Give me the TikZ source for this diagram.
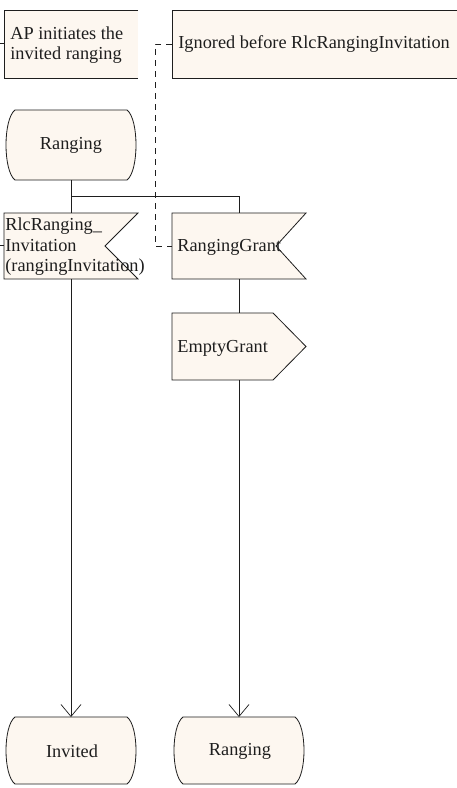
\documentclass[tikz,border=0pt]{standalone}
\usepackage{fontspec}
\setmainfont{Liberation Serif}
\usetikzlibrary{arrows.meta,calc}
\definecolor{symfill}{HTML}{FDF7F0}
\definecolor{ink}{HTML}{1E1E1E}

% SDL state symbol: straight top and bottom, bulging left and right sides
\newcommand\drawstate[1]{%
  \path[sym] ($(#1.north west)+(11,0)$) -- ($(#1.north east)+(-11,0)$)
    .. controls ($(#1.north east)+(1,9)$) and ($(#1.south east)+(1,-9)$) .. ($(#1.south east)+(-11,0)$)
    -- ($(#1.south west)+(11,0)$)
    .. controls ($(#1.south west)+(-1,-9)$) and ($(#1.north west)+(-1,9)$) .. cycle;}
% SDL input symbol: rectangle with a notch cut into its right side
\newcommand\drawinput[2]{%
  \path[sym] (#1.north west) -- (#1.north east) -- ($(#1.east)+(-#2,0)$)
    -- (#1.south east) -- (#1.south west) -- cycle;}
% SDL output symbol: rectangle with a point on its right side
\newcommand\drawoutput[2]{%
  \path[sym] (#1.north west) -- ($(#1.north east)+(-#2,0)$) -- (#1.east)
    -- ($(#1.south east)+(-#2,0)$) -- (#1.south west) -- cycle;}
% SDL comment symbol: filled area with an open bracket on its left
\newcommand\drawcomment[1]{%
  \fill[symfill] (#1.north west) rectangle (#1.south east);
  \draw[draw=ink] (#1.north east) -- (#1.north west) -- (#1.south west) -- (#1.south east);}

\begin{document}
\begin{tikzpicture}[x=1bp,y=-1bp,line width=0.8bp,
  sym/.style={fill=symfill,draw=ink},
  shapebox/.style={inner sep=0pt,outer sep=0pt,draw=none},
  lbl/.style={font=\fontsize{18.3bp}{20.5bp}\selectfont,inner sep=0pt,align=left,text=ink},
  flow/.style={draw=ink},
  arr/.style={flow,-{Straight Barb[length=12bp,width=20bp,line width=0.7bp]}},
  cmtline/.style={draw=ink,dash pattern=on 6bp off 5bp}]
\useasboundingbox[fill=white] (0,0) rectangle (457,788);

% comments
\node[shapebox,minimum width=134bp,minimum height=68bp] (c1) at (71,44) {};
\drawcomment{c1}
\node[lbl,anchor=west] (c1t) at (10,45) {AP initiates the\\invited ranging};
\coordinate (c1s) at (0,43);
\draw[flow] (c1s) -- (c1.west |- c1s);

\node[shapebox,minimum width=285bp,minimum height=68bp] (c2) at (314.5,44) {};
\drawcomment{c2}
\node[lbl,anchor=west] (c2t) at (178,44) {Ignored before RlcRangingInvitation};

% start state
\node[shapebox,minimum width=134bp,minimum height=70bp] (s0) at (71,145) {};
\drawstate{s0}
\node[lbl] (s0t) at (71,145) {Ranging};

% inputs
\node[shapebox,minimum width=134bp,minimum height=66bp] (in1) at (71,246) {};
\drawinput{in1}{33}
\node[lbl,anchor=west] (in1t) at (5,247) {RlcRanging\_\\Invitation\\(rangingInvitation)};
\coordinate (in1s) at (0,245);
\draw[flow] (in1s) -- (in1.west |- in1s);

\node[shapebox,minimum width=134bp,minimum height=66bp] (in2) at (239,246) {};
\drawinput{in2}{30}
\node[lbl,anchor=west] (in2t) at (177,247) {RangingGrant};

% output
\node[shapebox,minimum width=134bp,minimum height=67bp] (out1) at (239,346.5) {};
\drawoutput{out1}{33}
\node[lbl,anchor=west] (out1t) at (177,348) {EmptyGrant};

% next states
\node[shapebox,minimum width=134bp,minimum height=67bp] (s1) at (71,750.5) {};
\drawstate{s1}
\node[lbl] (s1t) at (72,751) {Invited};

\node[shapebox,minimum width=134bp,minimum height=67bp] (s2) at (239,750.5) {};
\drawstate{s2}
\node[lbl] (s2t) at (240,751) {Ranging};

% comment connector
\draw[cmtline] (c2.west) -- ++(-17,0) |- (in2.west);

% flow lines
\coordinate (fork) at ($(s0.south)+(0,16)$);
\draw[flow] (s0.south) -- (in1.north);
\draw[flow] (fork) -| (in2.north);
\draw[flow] (in2.south) -- (out1.north);
\draw[arr] (in1.south) -- (s1.north);
\draw[arr] (out1.south) -- (s2.north);
\end{tikzpicture}
\end{document}
